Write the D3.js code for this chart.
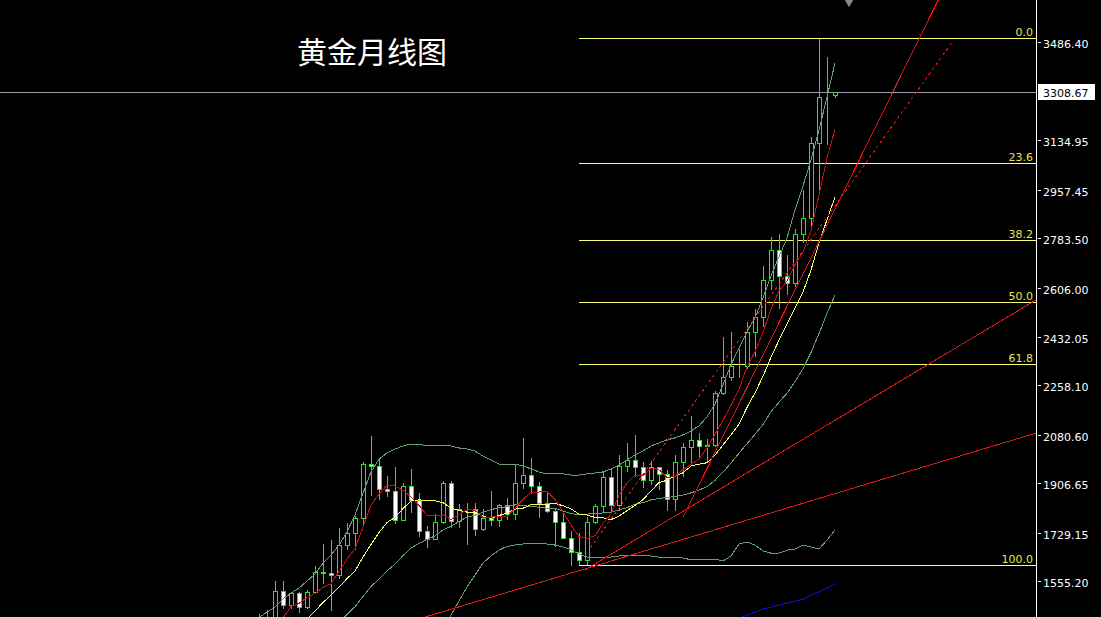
<!DOCTYPE html>
<html>
<head>
<meta charset="utf-8">
<script src="https://cdn.jsdelivr.net/npm/d3@7"></script>
<style>
html,body{margin:0;padding:0;background:#000;overflow:hidden}
svg{display:block}
</style>
</head>
<body>
<svg id="chart" width="1101" height="617"></svg>
<script>
// ---------------- DATA (monthly gold) ----------------
const months = ["2019-06","2019-07","2019-08","2019-09","2019-10","2019-11","2019-12",
"2020-01","2020-02","2020-03","2020-04","2020-05","2020-06","2020-07","2020-08","2020-09","2020-10","2020-11","2020-12",
"2021-01","2021-02","2021-03","2021-04","2021-05","2021-06","2021-07","2021-08","2021-09","2021-10","2021-11","2021-12",
"2022-01","2022-02","2022-03","2022-04","2022-05","2022-06","2022-07","2022-08","2022-09","2022-10","2022-11","2022-12",
"2023-01","2023-02","2023-03","2023-04","2023-05","2023-06","2023-07","2023-08","2023-09","2023-10","2023-11","2023-12",
"2024-01","2024-02","2024-03","2024-04","2024-05","2024-06","2024-07","2024-08","2024-09","2024-10","2024-11","2024-12",
"2025-01","2025-02","2025-03","2025-04","2025-05","2025-06"];

const opens = [1305,1409,1413,1520,1472,1513,1464,1517,1589,1585,
1577,1687,1730,1781,1975,1968,1886,1879,1776,1898,
1847,1734,1707,1769,1906,1770,1814,1813,1742,1783,
1774,1829,1797,1909,1937,1897,1837,1807,1766,1711,
1661,1633,1768,1824,1928,1827,1969,1990,1963,1919,
1965,1940,1849,1983,2036,2063,2039,2044,2230,2286,
2327,2326,2447,2503,2634,2743,2650,2624,2798,2858,
3124,3289,3297];

const highs = [1439,1453,1555,1557,1517,1516,1525,1611,1689,1704,
1747,1765,1789,1984,2075,1992,1933,1965,1906,1959,
1872,1755,1798,1913,1916,1832,1834,1836,1813,1877,
1831,1853,1974,2070,1998,1910,1879,1814,1808,1735,
1729,1786,1833,1949,1960,2009,2049,2079,1984,1987,
1966,1953,2009,2052,2146,2088,2065,2236,2431,2450,
2388,2483,2531,2685,2790,2801,2726,2817,2956,3148,
3500,3435,3310];

const lows = [1296,1382,1400,1459,1459,1445,1458,1517,1548,1451,
1568,1670,1671,1757,1863,1849,1860,1764,1775,1802,
1717,1677,1705,1765,1750,1751,1688,1721,1740,1758,
1753,1780,1780,1890,1872,1787,1805,1681,1709,1615,
1617,1617,1765,1804,1805,1810,1950,1932,1893,1903,
1885,1810,1810,1931,1973,2002,1984,2039,2228,2277,
2286,2318,2364,2471,2604,2536,2583,2615,2772,2833,
2957,3121,3290];

const closes = [1409,1413,1520,1472,1513,1464,1517,1589,1585,1577,
1687,1730,1781,1975,1968,1886,1879,1776,1898,1847,
1734,1707,1769,1906,1770,1814,1813,1742,1783,1774,
1829,1797,1909,1937,1897,1837,1807,1766,1711,1661,
1633,1768,1824,1928,1827,1969,1990,1963,1919,1965,
1940,1849,1983,2036,2063,2039,2044,2230,2286,2327,
2326,2447,2503,2634,2743,2650,2624,2798,2858,3124,
3289,3289,3308.67];

// Indicator lines
const ma5 = [1321,1341,1386,1424,1465,1476,1497,1511,1534,1546,
1591,1634,1672,1750,1828,1868,1898,1897,1881,1857,
1827,1792,1791,1793,1777,1793,1814,1809,1784,1785,
1788,1785,1818,1849,1874,1875,1877,1849,1804,1756,
1716,1708,1719,1763,1796,1863,1908,1935,1934,1961,
1955,1927,1931,1955,1974,1994,2033,2082,2132,2185,
2243,2323,2378,2447,2531,2595,2631,2690,2735,2811,
2939,3072,3174];

const ma10 = [1284,1306,1336,1361,1384,1399,1419,1449,1479,1506,
1534,1565,1592,1642,1687,1730,1766,1784,1816,1843,
1847,1845,1844,1837,1817,1810,1803,1800,1789,1781,
1791,1800,1814,1817,1830,1832,1831,1834,1826,1815,
1796,1793,1784,1783,1776,1789,1808,1827,1848,1879,
1909,1917,1933,1944,1968,1975,1980,2007,2044,2080,
2118,2178,2230,2290,2358,2419,2477,2534,2591,2671,
2767,2851,2932];

const bbMid = [1285,1292,1302,1309,1319,1325,1336,1350,1367,1384,
1409,1436,1464,1501,1536,1564,1592,1617,1647,1674,
1691,1705,1718,1739,1752,1770,1785,1792,1802,1812,
1819,1822,1829,1827,1823,1821,1817,1817,1807,1798,
1793,1796,1799,1800,1803,1811,1819,1831,1837,1847,
1852,1855,1859,1864,1872,1882,1894,1917,1946,1979,
2014,2048,2082,2117,2163,2197,2229,2270,2317,2375,
2443,2515,2581];

const bbUpper = [1425,1445,1463,1492,1513,1531,1556,1581,1620,1649,
1685,1732,1793,1871,1947,1993,2015,2029,2040,2047,
2047,2040,2040,2043,2040,2033,2029,2022,2004,1990,
1975,1975,1975,1968,1958,1947,1940,1940,1940,1936,
1936,1940,1943,1947,1958,1972,1990,2008,2022,2040,
2051,2062,2069,2080,2094,2112,2144,2191,2259,2331,
2392,2449,2499,2571,2650,2718,2785,2886,2972,3065,
3172,3290,3412];

const bbLower = [null,null,null,null,null,null,null,null,null,null,
null,null,null,null,null,null,null,null,null,null,
null,null,null,1388,1434,1484,1535,1578,1621,1646,
1667,1680,1685,1689,1692,1692,1689,1685,1678,1668,
1653,1642,1639,1639,1642,1646,1646,1646,1646,1646,
1642,1642,1642,1639,1632,1632,1632,1635,1628,1646,
1689,1696,1685,1664,1656,1656,1667,1671,1685,1678,
1671,1703,1739];

const maLong = [null,null,null,null,null,null,null,null,null,null,
null,null,null,null,null,null,null,null,null,null,
null,null,null,null,null,null,null,null,null,null,
null,null,null,null,null,null,null,null,null,null,
null,null,null,null,null,null,null,null,null,null,
null,null,null,null,null,null,null,null,null,1412,
1423,1434,1445,1456,1463,1470,1477,1484,1491,1506,
1517,1531,1545];

// Price axis ticks
const tickValues = [3486.40,3134.95,2957.45,2783.50,2606.00,2432.05,2258.10,2080.60,1906.65,1729.15,1555.20];
const tickLabels = ["3486.40","3134.95","2957.45","2783.50","2606.00","2432.05","2258.10","2080.60","1906.65","1729.15","1555.20"];
const lastPrice = 3308.67;
const lastLabel = "3308.67";

// Fibonacci retracement (from the Oct-2022 low to the Apr-2025 high)
const fibLevels = ["0.0","23.6","38.2","50.0","61.8","100.0"];
const fibPrices = [3500.05,3054.9,2779.5,2557.0,2334.5,1614.0];
const fibStartMonth = "2022-10";

// Trend lines: [monthIndex, price] anchors
const trendFrom = [[20.75,1427],[40.75,1596],[53,1785],[41.4,1674]];
const trendTo   = [[97.1,2086],[97.1,2563],[84.9,3638],[86.75,3491]];
const trendDotted = [false,false,false,true];
const trendRay = [true,true,true,false];

const title = "黄金月线图";

// ---------------- DRAWING ----------------
const W = 1101, H = 617, axisX = 1036;
const svg = d3.select("#chart");
svg.append("rect").attr("width",W).attr("height",H).attr("fill","#000");

const x = d3.scaleLinear().domain([0, months.length - 1]).range([259, 835]);
const y = d3.scaleLinear().domain([1555.20, 3486.40]).range([581.3, 42.3]);

svg.append("defs").append("clipPath").attr("id","plot")
  .append("rect").attr("x",0).attr("y",0).attr("width",axisX).attr("height",H);

const plot = svg.append("g").attr("clip-path","url(#plot)");

// current price line
plot.append("line")
  .attr("x1",0).attr("x2",axisX)
  .attr("y1",Math.round(y(lastPrice))+0.5).attr("y2",Math.round(y(lastPrice))+0.5)
  .attr("stroke","#9a9aaa").attr("stroke-width",1).attr("shape-rendering","crispEdges");

// Fibonacci lines
const fibX0 = x(months.indexOf(fibStartMonth));
fibPrices.forEach((p,k)=>{
  const yy = Math.round(y(p))+0.5;
  plot.append("line").attr("x1",Math.round(fibX0)).attr("x2",axisX)
    .attr("y1",yy).attr("y2",yy)
    .attr("stroke","#ffff73").attr("stroke-width",1).attr("shape-rendering","crispEdges");
});

// candles
const green = "#2fe02f";
const cg = plot.append("g").attr("shape-rendering","crispEdges");
months.forEach((m,i)=>{
  const cx = Math.round(x(i));
  const o = opens[i], c = closes[i];
  const yh = Math.round(y(highs[i])), yl = Math.round(y(lows[i]));
  const yt = Math.round(y(Math.max(o,c))), yb = Math.round(y(Math.min(o,c)));
  cg.append("line").attr("x1",cx+0.5).attr("x2",cx+0.5).attr("y1",yh).attr("y2",yl+1)
    .attr("stroke",green).attr("stroke-width",1);
  cg.append("rect").attr("x",cx-1.5).attr("y",yt+0.5).attr("width",4).attr("height",Math.max(0,yb-yt))
    .attr("fill", c >= o ? "#000" : "#ffffff")
    .attr("stroke",green).attr("stroke-width",1);
});

// indicator lines
const line = d3.line().defined(d=>d[1]!=null).x(d=>x(d[0])).y(d=>y(d[1]));
const ser = arr => arr.map((v,i)=>[i,v]);
function drawLine(arr,color){
  plot.append("path").datum(ser(arr)).attr("d",line)
    .attr("fill","none").attr("stroke",color).attr("stroke-width",1)
    .attr("shape-rendering","crispEdges");
}
drawLine(bbUpper,"#62a070");
drawLine(bbMid,"#62a070");
drawLine(bbLower,"#62a070");
drawLine(maLong,"#1010c8");
drawLine(ma10,"#ffff66");
drawLine(ma5,"#c01212");

// trend lines
const xRight = x.invert(axisX + 2);
trendFrom.forEach((a,k)=>{
  let b = trendTo[k];
  if (trendRay[k]) {
    const slope = (b[1]-a[1])/(b[0]-a[0]);
    b = [xRight, a[1] + slope*(xRight-a[0])];
  }
  plot.append("path").datum([a,b]).attr("d",d3.line().x(d=>x(d[0])).y(d=>y(d[1])))
    .attr("fill","none").attr("stroke","#dc1818").attr("stroke-width",1)
    .attr("stroke-dasharray", trendDotted[k] ? "3,3" : null)
    .attr("shape-rendering","crispEdges");
});

// fib labels
fibPrices.forEach((p,k)=>{
  svg.append("text").attr("x",axisX-3).attr("y",Math.round(y(p))-2)
    .attr("text-anchor","end").attr("fill","#e8e84a")
    .attr("font-family","DejaVu Sans, sans-serif").attr("font-size",11)
    .text(fibLevels[k]);
});

// right price axis
svg.append("line").attr("x1",axisX+0.5).attr("x2",axisX+0.5).attr("y1",0).attr("y2",H)
  .attr("stroke","#ffffff").attr("stroke-width",1).attr("shape-rendering","crispEdges");
const ax = svg.append("g");
tickValues.forEach((v,k)=>{
  const yy = Math.round(y(v))+0.5;
  ax.append("line").attr("x1",axisX+2).attr("x2",axisX+5).attr("y1",yy).attr("y2",yy)
    .attr("stroke","#ffffff").attr("shape-rendering","crispEdges");
  ax.append("text").attr("x",axisX+7).attr("y",yy+5.5)
    .attr("fill","#ffffff").attr("font-family","DejaVu Sans, sans-serif").attr("font-size",11)
    .text(tickLabels[k]);
});

// last price label
const ly = Math.round(y(lastPrice));
svg.append("rect").attr("x",axisX+2).attr("y",ly-8).attr("width",57).attr("height",16)
  .attr("fill","#ffffff").attr("shape-rendering","crispEdges");
svg.append("text").attr("x",axisX+7).attr("y",ly+5)
  .attr("fill","#000").attr("font-family","DejaVu Sans, sans-serif").attr("font-size",11)
  .text(lastLabel);

// chart shift marker
svg.append("path").attr("d",d3.symbol().type(d3.symbolDiamond).size(60))
  .attr("transform","translate(849,0)").attr("fill","#8a8a96");

// title
svg.append("text").attr("x",297).attr("y",63)
  .attr("fill","#ffffff").attr("font-family","Noto Sans CJK SC, sans-serif").attr("font-size",30)
  .text(title);
</script>
</body>
</html>
